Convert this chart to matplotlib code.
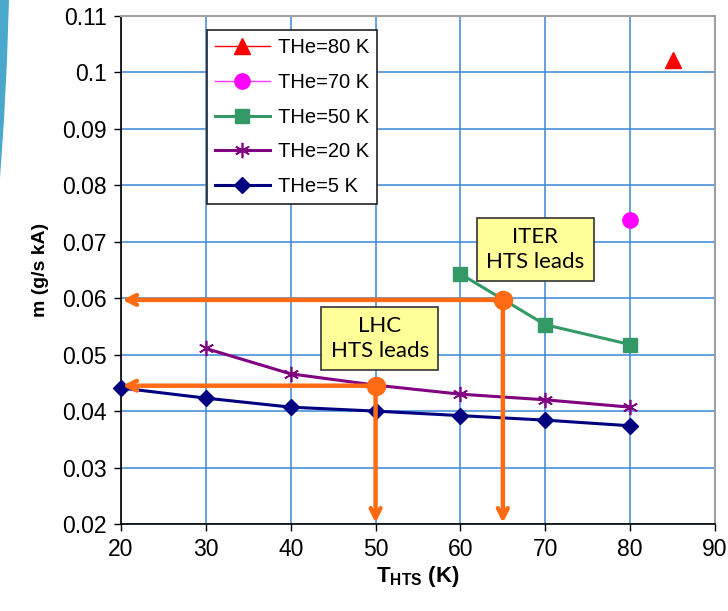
import numpy as np
import matplotlib
matplotlib.use('Agg')
import matplotlib.pyplot as plt
from matplotlib.patches import Polygon
from matplotlib.ticker import FuncFormatter

# data
t80 = [85]
m80 = [0.1022]
t70 = [80]
m70 = [0.0739]
t50 = [60, 70, 80]
m50 = [0.0643, 0.0553, 0.0518]
t20 = [30, 40, 50, 60, 70, 80]
m20 = [0.0511, 0.0466, 0.0446, 0.0430, 0.0420, 0.0407]
t5 = [20, 30, 40, 50, 60, 70, 80]
m5 = [0.0441, 0.0423, 0.0407, 0.0400, 0.0392, 0.0384, 0.0374]

# operating points
lhc = (50, 0.0445)
iter_pt = (65, 0.0597)

xticks = [20, 30, 40, 50, 60, 70, 80, 90]
yticks = [0.02, 0.03, 0.04, 0.05, 0.06, 0.07, 0.08, 0.09, 0.10, 0.11]

matplotlib.rc('font', family=['Liberation Sans', 'DejaVu Sans'])
matplotlib.rc('mathtext', fontset='custom', rm='Liberation Sans',
              bf='Liberation Sans:bold')

fig = plt.figure(figsize=(7.28, 6.11), dpi=100)
ax = fig.add_axes([121/728, 1-524/611, 594/728, 508/611])

# slide decoration at left edge
W, H = 728, 611
deco = [(0, 0), (9, 0), (7, 60), (4, 120), (0, 178)]
fig.patches.append(Polygon([(x/W, 1-y/H) for x, y in deco], closed=True,
                           transform=fig.transFigure, fc='#4aa8cc', ec='none'))

ax.set_xlim(20, 90)
ax.set_ylim(0.02, 0.11)
ax.set_xticks(xticks)
ax.set_yticks(yticks)
ax.yaxis.set_major_formatter(FuncFormatter(lambda v, p: '%g' % round(v, 3)))
ax.grid(True, color='#3a86d6', lw=1.1)
ax.set_axisbelow(True)
ax.tick_params(direction='out', length=5, width=1, labelsize=16.5, pad=5,
               color='black')
for s in ['top', 'right']:
    ax.spines[s].set_color('#a0a0a0')
    ax.spines[s].set_linewidth(1.5)
for s in ['left', 'bottom']:
    ax.spines[s].set_linewidth(1.2)

ax.plot(t80, m80, color='#ff0000', marker='^', ms=11, lw=1, label='THe=80 K',
        clip_on=False, zorder=4)
ax.plot(t70, m70, color='#ff33ff', marker='o', ms=11, lw=1, mfc='#ff00ff',
        mec='#ff00ff', label='THe=70 K', zorder=4)
ax.plot(t50, m50, color='#339966', marker='s', ms=10, lw=2.2,
        label='THe=50 K', zorder=4)
ax.plot(t20, m20, color='#800080', marker=(6, 2, 0), ms=11, mew=1.2, lw=2.2,
        label='THe=20 K', zorder=4)
ax.plot(t5, m5, color='#000080', marker='D', ms=8, lw=2.2,
        label='THe=5 K', zorder=4, clip_on=False)

# orange arrows to the axes
orange = '#ff6a13'
for px, py in [lhc, iter_pt]:
    ap = dict(arrowstyle='->,head_length=0.7,head_width=0.35', color=orange,
              lw=3.2, shrinkA=0, shrinkB=0)
    ax.annotate('', xy=(20.15, py), xytext=(px, py), arrowprops=ap, zorder=5)
    ax.annotate('', xy=(px, 0.0202), xytext=(px, py), arrowprops=ap, zorder=5)
    ax.plot(px, py, 'o', color=orange, ms=13, zorder=6)

box = dict(boxstyle='square,pad=0.42', fc='#ffff99', ec='#333333', lw=1.2)
ax.text(68.8, 0.0686, 'ITER\nHTS leads', ha='center', va='center',
        fontsize=16, family='Lato', linespacing=1.3, bbox=box, zorder=7)
ax.text(50.5, 0.0529, 'LHC\nHTS leads', ha='center', va='center',
        fontsize=16, family='Lato', linespacing=1.3, bbox=box, zorder=7)

leg = ax.legend(loc='upper left', bbox_to_anchor=(0.145, 0.972),
                borderaxespad=0, fontsize=14.5, fancybox=False,
                edgecolor='#222222', framealpha=1, handlelength=2.7,
                labelspacing=0.78, handletextpad=0.4, borderpad=0.4)
leg.get_frame().set_linewidth(1.2)

ax.set_ylabel('m (g/s kA)', fontsize=14, fontweight='bold', labelpad=10)
ax.set_xlabel(r'T$_{\mathbf{HTS}}$ (K)', fontsize=16, fontweight='bold',
              labelpad=2)

fig.savefig('out.png', dpi=100)
